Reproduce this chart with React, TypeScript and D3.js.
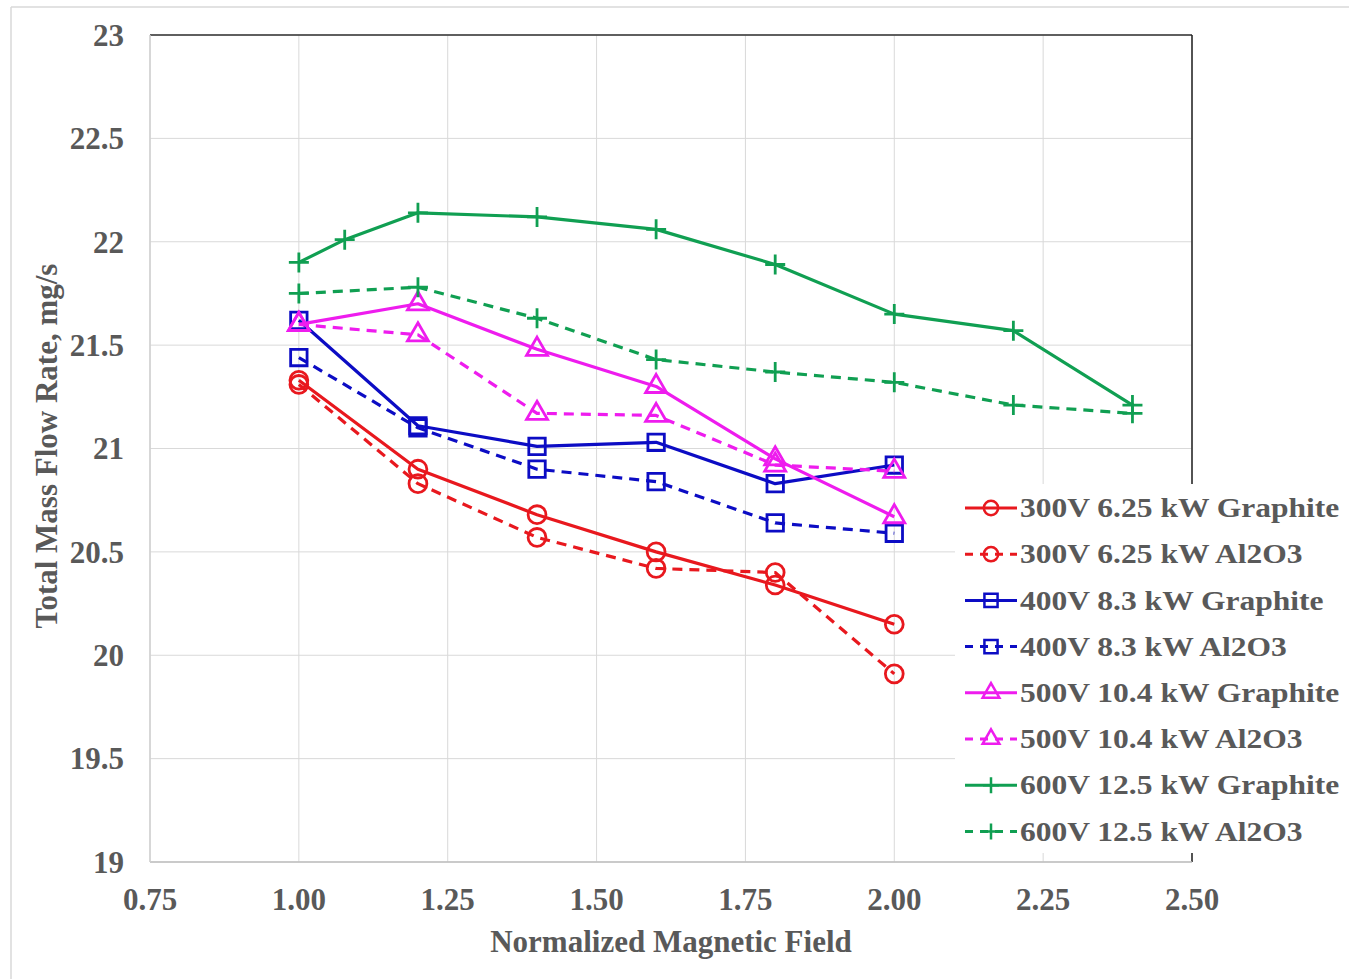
import React from 'react';
import * as d3 from 'd3';

const xTicks = [0.75, 1.0, 1.25, 1.5, 1.75, 2.0, 2.25, 2.5];
const yTicks = [19, 19.5, 20, 20.5, 21, 21.5, 22, 22.5, 23];

const fieldMain = [1.0, 1.2, 1.4, 1.6, 1.8, 2.0];
const fieldGreenGraphite = [1.0, 1.077, 1.2, 1.4, 1.6, 1.8, 2.0, 2.2, 2.4];
const fieldGreenAl2O3 = [1.0, 1.2, 1.4, 1.6, 1.8, 2.0, 2.2, 2.4];

const red300Graphite = [21.33, 20.9, 20.68, 20.5, 20.34, 20.15];
const red300Al2O3 = [21.31, 20.83, 20.57, 20.42, 20.4, 19.91];
const blue400Graphite = [21.62, 21.11, 21.01, 21.03, 20.83, 20.92];
const blue400Al2O3 = [21.44, 21.1, 20.9, 20.84, 20.64, 20.59];
const mag500Graphite = [21.6, 21.7, 21.48, 21.3, 20.95, 20.67];
const mag500Al2O3 = [21.6, 21.55, 21.17, 21.16, 20.92, 20.89];
const green600Graphite = [21.9, 22.01, 22.14, 22.12, 22.06, 21.89, 21.65, 21.57, 21.21];
const green600Al2O3 = [21.75, 21.78, 21.63, 21.43, 21.37, 21.32, 21.21, 21.17];

const seriesNames = [
  '300V 6.25 kW Graphite',
  '300V 6.25 kW Al2O3',
  '400V 8.3 kW Graphite',
  '400V 8.3 kW Al2O3',
  '500V 10.4 kW Graphite',
  '500V 10.4 kW Al2O3',
  '600V 12.5 kW Graphite',
  '600V 12.5 kW Al2O3',
];

const RED = '#e8181e';
const BLUE = '#0c0cc4';
const MAG = '#ee1cee';
const GREEN = '#109f52';

type Shape = 'circle' | 'square' | 'triangle' | 'plus';

const series: { name: string; xs: number[]; ys: number[]; color: string; dashed: boolean; shape: Shape }[] = [
  { name: seriesNames[0], xs: fieldMain, ys: red300Graphite, color: RED, dashed: false, shape: 'circle' },
  { name: seriesNames[1], xs: fieldMain, ys: red300Al2O3, color: RED, dashed: true, shape: 'circle' },
  { name: seriesNames[2], xs: fieldMain, ys: blue400Graphite, color: BLUE, dashed: false, shape: 'square' },
  { name: seriesNames[3], xs: fieldMain, ys: blue400Al2O3, color: BLUE, dashed: true, shape: 'square' },
  { name: seriesNames[4], xs: fieldMain, ys: mag500Graphite, color: MAG, dashed: false, shape: 'triangle' },
  { name: seriesNames[5], xs: fieldMain, ys: mag500Al2O3, color: MAG, dashed: true, shape: 'triangle' },
  { name: seriesNames[6], xs: fieldGreenGraphite, ys: green600Graphite, color: GREEN, dashed: false, shape: 'plus' },
  { name: seriesNames[7], xs: fieldGreenAl2O3, ys: green600Al2O3, color: GREEN, dashed: true, shape: 'plus' },
];

const markerPath = (shape: Shape, scale = 1): string => {
  if (shape === 'plus') {
    const h = 10 * scale;
    return `M${-h},0H${h}M0,${-h}V${h}`;
  }
  if (shape === 'circle') return d3.symbol(d3.symbolCircle, 250 * scale * scale)() as string;
  if (shape === 'square') return d3.symbol(d3.symbolSquare, 270 * scale * scale)() as string;
  return d3.symbol(d3.symbolTriangle, 190 * scale * scale)() as string;
};

const FONT = '"Liberation Serif", "Times New Roman", serif';
const TXT = '#595959';

export default function App() {
  const left = 150, right = 1192, top = 35, bottom = 862;
  const x = d3.scaleLinear().domain([0.75, 2.5]).range([left, right]);
  const y = d3.scaleLinear().domain([19, 23]).range([bottom, top]);
  const fmtX = d3.format('.2f');

  const line = d3.line<[number, number]>().x((d) => x(d[0])).y((d) => y(d[1]));

  const legX = 955, legY = 484, legW = 392, legH = 369;
  const legRow0 = 508, legStep = 46.2;

  return (
    <svg
      width={1349}
      height={979}
      style={{ position: 'absolute', left: 0, top: 0, background: '#fff' }}
    >
      <rect x={0} y={0} width={1349} height={979} fill="#fff" />
      {/* outer frame */}
      <line x1={11} y1={7} x2={1349} y2={7} stroke="#d9d9d9" strokeWidth={1.5} />
      <line x1={11} y1={7} x2={11} y2={979} stroke="#d9d9d9" strokeWidth={1.5} />

      {/* gridlines */}
      {xTicks.map((t) => (
        <line key={'gx' + t} x1={x(t)} x2={x(t)} y1={top} y2={bottom} stroke="#d9d9d9" strokeWidth={1} />
      ))}
      {yTicks.map((t) => (
        <line key={'gy' + t} x1={left} x2={right} y1={y(t)} y2={y(t)} stroke="#d9d9d9" strokeWidth={1} />
      ))}

      {/* plot borders */}
      <line x1={left} x2={right} y1={top} y2={top} stroke="#303030" strokeWidth={1.5} />
      <line x1={right} x2={right} y1={top} y2={bottom} stroke="#202020" strokeWidth={1.5} />
      <line x1={left} x2={right} y1={bottom} y2={bottom} stroke="#bfbfbf" strokeWidth={1.5} />
      <line x1={left} x2={left} y1={top} y2={bottom} stroke="#d0d0d0" strokeWidth={1.5} />

      {/* series */}
      {series.map((s, i) => {
        const pts = s.xs.map((v, j) => [v, s.ys[j]] as [number, number]);
        return (
          <g key={'s' + i}>
            <path
              d={line(pts) as string}
              fill="none"
              stroke={s.color}
              strokeWidth={3.2}
              strokeDasharray={s.dashed ? '10 7' : undefined}
              strokeLinejoin="round"
            />
            {pts.map((p, j) => (
              <path
                key={j}
                d={markerPath(s.shape)}
                transform={`translate(${x(p[0])},${y(p[1])})`}
                fill="none"
                stroke={s.color}
                strokeWidth={2.8}
              />
            ))}
          </g>
        );
      })}

      {/* y tick labels */}
      {yTicks.map((t) => (
        <text
          key={'yl' + t}
          x={124}
          y={y(t)}
          dy="0.35em"
          textAnchor="end"
          fontFamily={FONT}
          fontWeight="bold"
          fontSize={31}
          fill={TXT}
        >
          {String(t)}
        </text>
      ))}
      {/* x tick labels */}
      {xTicks.map((t) => (
        <text
          key={'xl' + t}
          x={x(t)}
          y={910}
          textAnchor="middle"
          fontFamily={FONT}
          fontWeight="bold"
          fontSize={31}
          fill={TXT}
        >
          {fmtX(t)}
        </text>
      ))}

      {/* axis titles */}
      <text
        x={671}
        y={952}
        textAnchor="middle"
        fontFamily={FONT}
        fontWeight="bold"
        fontSize={31}
        fill={TXT}
      >
        Normalized Magnetic Field
      </text>
      <text
        transform="translate(57,446) rotate(-90)"
        textAnchor="middle"
        fontFamily={FONT}
        fontWeight="bold"
        fontSize={31}
        fill={TXT}
      >
        Total Mass Flow Rate, mg/s
      </text>

      {/* legend */}
      <rect x={legX} y={legY} width={legW} height={legH} fill="#fff" />
      {series.map((s, i) => {
        const cy = legRow0 + i * legStep;
        return (
          <g key={'lg' + i}>
            <line
              x1={965}
              x2={1017}
              y1={cy}
              y2={cy}
              stroke={s.color}
              strokeWidth={3}
              strokeDasharray={s.dashed ? '8 7' : undefined}
            />
            <path
              d={markerPath(s.shape, 0.8)}
              transform={`translate(991,${cy})`}
              fill="none"
              stroke={s.color}
              strokeWidth={2.5}
            />
            <text
              transform={`translate(1020,${cy}) scale(1.19,1)`}
              dy="0.35em"
              fontFamily={FONT}
              fontWeight="bold"
              fontSize={26.5}
              fill={TXT}
            >
              {s.name}
            </text>
          </g>
        );
      })}
    </svg>
  );
}
